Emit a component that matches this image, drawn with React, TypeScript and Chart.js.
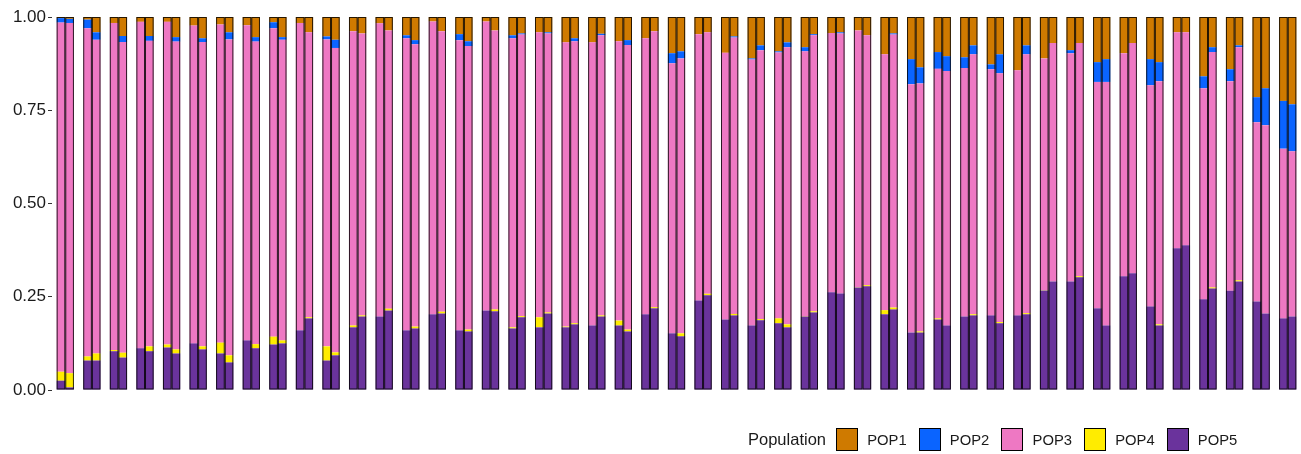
import React, { useEffect, useRef } from 'react';
import { Chart, registerables } from 'chart.js';

Chart.register(...registerables);

// 47 samples, each drawn as a pair of stacked bars (left, right)
const categories: string[] = Array.from({ length: 47 }, (_, i) => `S${i + 1}`);
const populations = ['POP1', 'POP2', 'POP3', 'POP4', 'POP5'];
const colors = ['#CF7A00', '#0A64FF', '#EE78C3', '#FFEC00', '#6A339C'];
const yTicks = [0, 0.25, 0.5, 0.75, 1];

// Values per bar, in bar order: sample1-left, sample1-right, sample2-left, ...
const pop1 = [
  0.003, 0.005, 0.007, 0.041, 0.016, 0.051, 0.013, 0.051, 0.013, 0.054,
  0.023, 0.057, 0.020, 0.041, 0.022, 0.054, 0.014, 0.054, 0.016, 0.041,
  0.052, 0.061, 0.038, 0.044, 0.017, 0.036, 0.049, 0.062, 0.012, 0.038,
  0.046, 0.065, 0.012, 0.036, 0.049, 0.044, 0.041, 0.041, 0.068, 0.057,
  0.068, 0.045, 0.065, 0.062, 0.057, 0.038, 0.097, 0.092, 0.046, 0.041,
  0.096, 0.052, 0.111, 0.076, 0.092, 0.068, 0.081, 0.046, 0.043, 0.041,
  0.036, 0.049, 0.100, 0.044, 0.113, 0.135, 0.094, 0.105, 0.108, 0.076,
  0.127, 0.100, 0.143, 0.076, 0.111, 0.070, 0.089, 0.070, 0.121, 0.113,
  0.097, 0.070, 0.113, 0.121, 0.041, 0.041, 0.159, 0.081, 0.140, 0.076,
  0.215, 0.191, 0.225, 0.234,
];
const pop2 = [
  0.012, 0.011, 0.023, 0.020, 0, 0.016, 0, 0.013, 0, 0.012,
  0, 0.010, 0, 0.019, 0, 0.012, 0.016, 0.007, 0, 0,
  0.008, 0.022, 0, 0, 0, 0, 0.008, 0.011, 0, 0,
  0.016, 0.013, 0, 0, 0.008, 0.003, 0, 0.003, 0, 0.008,
  0, 0.004, 0, 0.013, 0, 0, 0.027, 0.019, 0, 0,
  0, 0.003, 0.003, 0.013, 0.003, 0.013, 0.011, 0.003, 0, 0.003,
  0, 0, 0, 0.003, 0.067, 0.043, 0.045, 0.040, 0.029, 0.024,
  0.013, 0.051, 0, 0.024, 0, 0, 0.008, 0, 0.053, 0.061,
  0, 0, 0.070, 0.051, 0, 0, 0.032, 0.013, 0.032, 0.005,
  0.067, 0.099, 0.128, 0.126,
];
const pop3 = [
  0.936, 0.939, 0.880, 0.841, 0.877, 0.833, 0.875, 0.819, 0.865, 0.825,
  0.852, 0.816, 0.853, 0.847, 0.845, 0.811, 0.827, 0.806, 0.824, 0.764,
  0.823, 0.816, 0.789, 0.756, 0.786, 0.746, 0.783, 0.757, 0.785, 0.752,
  0.778, 0.760, 0.775, 0.748, 0.775, 0.755, 0.764, 0.748, 0.762, 0.756,
  0.759, 0.751, 0.749, 0.763, 0.740, 0.740, 0.724, 0.737, 0.714, 0.701,
  0.715, 0.741, 0.713, 0.721, 0.713, 0.743, 0.710, 0.740, 0.695, 0.697,
  0.688, 0.670, 0.686, 0.732, 0.666, 0.665, 0.669, 0.682, 0.666, 0.697,
  0.660, 0.667, 0.657, 0.694, 0.621, 0.639, 0.612, 0.625, 0.607, 0.653,
  0.598, 0.617, 0.593, 0.652, 0.579, 0.571, 0.566, 0.631, 0.562, 0.625,
  0.481, 0.505, 0.455, 0.443,
];
const pop4 = [
  0.024, 0.038, 0.011, 0.019, 0.003, 0.013, 0, 0.013, 0.008, 0.011,
  0, 0.008, 0.029, 0.019, 0, 0.011, 0.021, 0.008, 0, 0.003,
  0.038, 0.008, 0.005, 0.003, 0, 0.005, 0, 0.005, 0, 0.005,
  0, 0.005, 0, 0.005, 0.003, 0.003, 0.027, 0.003, 0.002, 0.003,
  0, 0.003, 0.013, 0.005, 0, 0.003, 0, 0.008, 0, 0.004,
  0, 0.004, 0, 0.003, 0.013, 0.008, 0.001, 0.003, 0, 0,
  0.001, 0.003, 0.011, 0.005, 0, 0.003, 0.003, 0, 0, 0.003,
  0, 0.003, 0, 0.003, 0.001, 0, 0, 0.003, 0, 0,
  0, 0, 0, 0.003, 0, 0, 0, 0.003, 0, 0.003,
  0, 0, 0, 0,
];
const pop5 = [
  0.025, 0.007, 0.079, 0.079, 0.104, 0.087, 0.112, 0.104, 0.114, 0.098,
  0.125, 0.109, 0.098, 0.074, 0.133, 0.112, 0.122, 0.125, 0.160, 0.192,
  0.079, 0.093, 0.168, 0.197, 0.197, 0.213, 0.160, 0.165, 0.203, 0.205,
  0.160, 0.157, 0.213, 0.211, 0.165, 0.195, 0.168, 0.205, 0.168, 0.176,
  0.173, 0.197, 0.173, 0.157, 0.203, 0.219, 0.152, 0.144, 0.240, 0.254,
  0.189, 0.200, 0.173, 0.187, 0.179, 0.168, 0.197, 0.208, 0.262, 0.259,
  0.275, 0.278, 0.203, 0.216, 0.154, 0.154, 0.189, 0.173, 0.197, 0.200,
  0.200, 0.179, 0.200, 0.203, 0.267, 0.291, 0.291, 0.302, 0.219, 0.173,
  0.305, 0.313, 0.224, 0.173, 0.380, 0.388, 0.243, 0.272, 0.266, 0.291,
  0.237, 0.205, 0.192, 0.197,
];

const FONT = "'Liberation Sans', Arial, Helvetica, sans-serif";

const outlinePlugin = {
  id: 'stackOutline',
  afterDatasetsDraw(chart: any) {
    const ctx = chart.ctx;
    const groups = [
      [0, 1, 2, 3, 4],
      [5, 6, 7, 8, 9],
    ];
    ctx.save();
    ctx.strokeStyle = 'rgba(0,0,0,0.82)';
    ctx.lineWidth = 1;
    for (const g of groups) {
      const metas = g.map((i) => chart.getDatasetMeta(i));
      const n = metas[0].data.length;
      for (let j = 0; j < n; j++) {
        const props = metas.map((m: any) => m.data[j].getProps(['x', 'y', 'base', 'width'], true));
        const w = props[0].width;
        const left = props[0].x - w / 2;
        let top = Infinity;
        let bottom = -Infinity;
        for (const p of props) {
          top = Math.min(top, p.y, p.base);
          bottom = Math.max(bottom, p.y, p.base);
        }
        ctx.strokeRect(left + 0.5, top + 0.5, w - 1, bottom - top - 1);
      }
    }
    ctx.restore();
  },
};

export default function App() {
  const ref = useRef<HTMLCanvasElement>(null);

  useEffect(() => {
    if (!ref.current) return;
    const series = [pop1, pop2, pop3, pop4, pop5];
    const datasets: any[] = [];
    for (const side of [0, 1]) {
      for (const p of [4, 3, 2, 1, 0]) {
        datasets.push({
          label: populations[p],
          data: series[p].filter((_, i) => i % 2 === side),
          backgroundColor: colors[p],
          borderWidth: 0,
          stack: side === 0 ? 'left' : 'right',
          categoryPercentage: 0.65,
          barPercentage: 1,
        });
      }
    }
    const chart = new Chart(ref.current, {
      type: 'bar',
      data: { labels: categories, datasets },
      options: {
        animation: false,
        responsive: false,
        devicePixelRatio: 1,
        layout: { padding: { top: 17, bottom: 64, left: 0, right: 0 } },
        plugins: {
          legend: { display: false },
          tooltip: { enabled: false },
        },
        scales: {
          x: {
            display: false,
            stacked: true,
            offset: true,
          },
          y: {
            stacked: true,
            min: 0,
            max: 1,
            afterFit: (s: any) => {
              s.width = 52;
            },
            afterBuildTicks: (s: any) => {
              s.ticks = yTicks.map((v) => ({ value: v }));
            },
            ticks: {
              callback: (v: any) => Number(v).toFixed(2),
              font: { family: FONT, size: 17 },
              color: '#1a1a1a',
              padding: 2,
            },
            grid: {
              drawOnChartArea: false,
              drawTicks: true,
              tickLength: 4,
              color: '#333333',
              lineWidth: 1,
            },
            border: { display: false },
          },
        },
      },
      plugins: [outlinePlugin],
    });
    return () => chart.destroy();
  }, []);

  return (
    <div style={{ position: 'absolute', left: 0, top: 0, width: 1301, height: 454, background: '#fff' }}>
      <canvas ref={ref} width={1301} height={454} style={{ display: 'block', width: 1301, height: 454 }} />
      <div
        style={{
          position: 'absolute',
          left: 748,
          top: 427,
          height: 25,
          display: 'flex',
          alignItems: 'center',
          fontFamily: FONT,
          color: '#1a1a1a',
          whiteSpace: 'nowrap',
        }}
      >
        <span style={{ fontSize: 16.5, marginRight: 10 }}>Population</span>
        {populations.map((p, i) => (
          <div key={p} style={{ display: 'flex', alignItems: 'center', marginRight: 12 }}>
            <span
              style={{
                display: 'inline-block',
                width: 22,
                height: 23,
                boxSizing: 'border-box',
                border: '1px solid #000',
                background: colors[i],
              }}
            />
            <span style={{ fontSize: 14.8, marginLeft: 9.2 }}>{p}</span>
          </div>
        ))}
      </div>
    </div>
  );
}
